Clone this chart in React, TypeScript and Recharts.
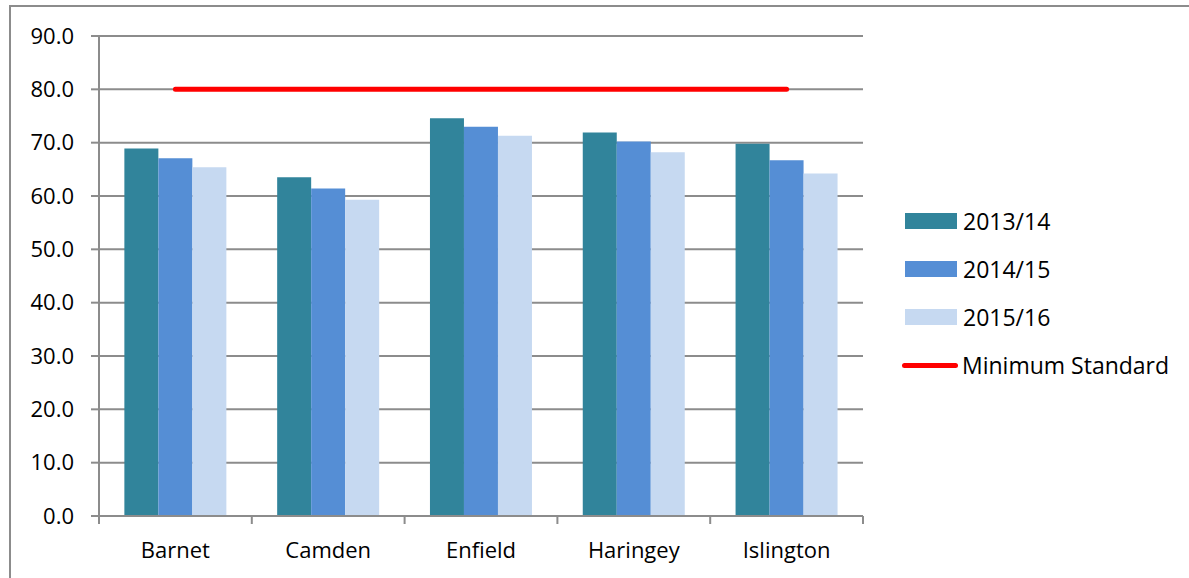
import React from 'react';
import {
  Bar,
  CartesianGrid,
  ComposedChart,
  Line,
  XAxis,
  YAxis,
} from 'recharts';

// boroughs and yearly values
const boroughs = ['Barnet', 'Camden', 'Enfield', 'Haringey', 'Islington'];
const y2013 = [68.9, 63.5, 74.6, 71.9, 69.8];
const y2014 = [67.1, 61.4, 73.0, 70.2, 66.7];
const y2015 = [65.4, 59.3, 71.3, 68.2, 64.2];
const minimumStandard = [80, 80, 80, 80, 80];
const yTicks = [0, 10, 20, 30, 40, 50, 60, 70, 80, 90];

const FONT = '"Open Sans", sans-serif';
const GRID = '#8c8c8c';

const series = [
  { key: 'y2013', name: '2013/14', color: '#31849B' },
  { key: 'y2014', name: '2014/15', color: '#558ED5' },
  { key: 'y2015', name: '2015/16', color: '#C6D9F1' },
];

const data = boroughs.map((name, i) => ({
  name,
  y2013: y2013[i],
  y2014: y2014[i],
  y2015: y2015[i],
  standard: minimumStandard[i],
}));

// category label plus tick marks on the category boundaries (Excel style)
const BoundaryTick = (props: any) => {
  const { x, y, payload, index } = props;
  const half = payload?.offset ?? 0;
  const axisY = y - 26;
  const last = index === boroughs.length - 1;
  return (
    <g>
      <line x1={x - half} x2={x - half} y1={axisY} y2={axisY + 8} stroke={GRID} strokeWidth={2} />
      {last && <line x1={x + half} x2={x + half} y1={axisY} y2={axisY + 8} stroke={GRID} strokeWidth={2} />}
      <text x={x} y={y} dy="0.71em" textAnchor="middle" fill="#000" fontSize={22} fontFamily={FONT}>
        {payload.value}
      </text>
    </g>
  );
};

const LegendBox = () => (
  <div
    style={{
      position: 'absolute',
      left: 905,
      top: 197,
      fontFamily: FONT,
      fontSize: 23,
      color: '#000',
    }}
  >
    {series.map((s) => (
      <div key={s.key} style={{ display: 'flex', alignItems: 'center', height: 48 }}>
        <span style={{ width: 52, height: 16, background: s.color, marginRight: 6 }} />
        <span>{s.name}</span>
      </div>
    ))}
    <div style={{ display: 'flex', alignItems: 'center', height: 48 }}>
      <span
        style={{ width: 56, height: 5, background: '#FF0000', borderRadius: 3, marginRight: 4, marginLeft: -3 }}
      />
      <span>Minimum Standard</span>
    </div>
  </div>
);

export default function App() {
  return (
    <div style={{ position: 'fixed', left: 0, top: 0, width: 1189, height: 578, background: '#fff', overflow: 'hidden' }}>
      <div style={{ position: 'absolute', left: 0, top: 0 }}>
        <ComposedChart
          width={1189}
          height={578}
          data={data}
          margin={{ top: 36, right: 326, left: 0, bottom: 22 }}
          barCategoryGap="16.6%"
          barGap={0}
        >
          <CartesianGrid vertical={false} stroke={GRID} strokeWidth={2} />
          <XAxis
            dataKey="name"
            height={40}
            tickLine={false}
            tickSize={8}
            tickMargin={18}
            stroke={GRID}
            strokeWidth={2}
            tick={<BoundaryTick />}
            interval={0}
          />
          <YAxis
            width={99}
            domain={[0, 90]}
            ticks={yTicks}
            tickFormatter={(v: number) => v.toFixed(1)}
            tickSize={8}
            tickMargin={17}
            stroke={GRID}
            strokeWidth={2}
            tick={{ fill: '#000', fontSize: 22, fontFamily: FONT }}
            interval={0}
          />
          {series.map((s) => (
            <Bar key={s.key} dataKey={s.key} name={s.name} fill={s.color} isAnimationActive={false} />
          ))}
          <Line
            dataKey="standard"
            name="Minimum Standard"
            stroke="#FF0000"
            strokeWidth={5}
            strokeLinecap="round"
            dot={false}
            activeDot={false}
            isAnimationActive={false}
          />
        </ComposedChart>
      </div>
      <div style={{ position: 'absolute', left: 9, top: 5, width: 1180, height: 2, background: GRID }} />
      <div style={{ position: 'absolute', left: 9, top: 5, width: 2, height: 573, background: GRID }} />
      <LegendBox />
    </div>
  );
}
